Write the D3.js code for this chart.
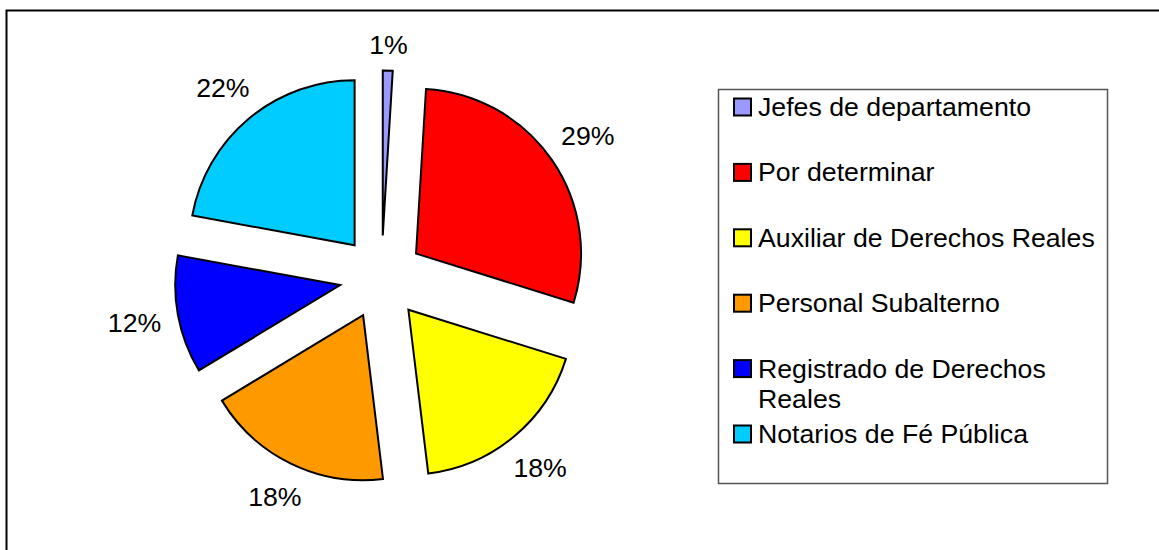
<!DOCTYPE html>
<html>
<head>
<meta charset="utf-8">
<script src="https://cdn.jsdelivr.net/npm/d3@7"></script>
<style>
  body { margin: 0; background: #fff; }
  text { font-family: "Liberation Sans", Arial, sans-serif; }
</style>
</head>
<body>
<div id="chart"></div>
<script>
// categories and values (counts)
var categories = ["Jefes de departamento", "Por determinar", "Auxiliar de Derechos Reales",
                  "Personal Subalterno", "Registrado de Derechos Reales", "Notarios de Fé Pública"];
var values = [1, 30, 19, 19, 12, 23];
var colors = ["#9999FF", "#FF0000", "#FFFF00", "#FF9900", "#0000FF", "#00CCFF"];
// legend lines (wrapped the way the legend shows them)
var legendLines = [["Jefes de departamento"], ["Por determinar"], ["Auxiliar de Derechos Reales"],
                   ["Personal Subalterno"], ["Registrado de Derechos", "Reales"], ["Notarios de Fé Pública"]];

var W = 1159, H = 550;
var cx = 381.5, cy = 277.5, radius = 165, explode = 42;
var fontSize = 26.7;

var svg = d3.select("#chart").append("svg")
    .attr("width", W)
    .attr("height", H);

// chart area border (runs off the right and bottom edge)
svg.append("rect")
    .attr("x", 6.5).attr("y", 10.5)
    .attr("width", W).attr("height", H)
    .attr("fill", "none")
    .attr("stroke", "#000")
    .attr("stroke-width", 2);

var data = categories.map(function(c, i) { return {name: c, value: values[i], color: colors[i]}; });
var total = d3.sum(values);

var pie = d3.pie().sort(null).value(function(d) { return d.value; });
var arc = d3.arc().innerRadius(0).outerRadius(radius);
var arcs = pie(data);

var g = svg.append("g").attr("transform", "translate(" + cx + "," + cy + ")");

// exploded slices
g.selectAll("path.slice")
    .data(arcs)
  .enter().append("path")
    .attr("class", "slice")
    .attr("d", arc)
    .attr("fill", function(d) { return d.data.color; })
    .attr("stroke", "#000")
    .attr("stroke-width", 2)
    .attr("transform", function(d) {
      var m = (d.startAngle + d.endAngle) / 2;
      return "translate(" + (explode * Math.sin(m)) + "," + (-explode * Math.cos(m)) + ")";
    });

// percentage labels outside each slice
var labels = g.selectAll("text.pct")
    .data(arcs)
  .enter().append("text")
    .attr("class", "pct")
    .attr("text-anchor", "middle")
    .attr("dy", "0.36em")
    .attr("font-size", fontSize)
    .attr("fill", "#000")
    .text(function(d) { return Math.round(d.data.value / total * 100) + "%"; });

labels.each(function(d) {
  var m = (d.startAngle + d.endAngle) / 2;
  var s = Math.sin(m), c = Math.cos(m);
  var hw = this.getComputedTextLength() / 2, hh = 10;
  var r = radius + explode + 16 + Math.abs(s) * hw + Math.abs(c) * hh;
  d3.select(this).attr("x", r * s).attr("y", -r * c);
});

// legend
var lx = 718, ly = 89, lw = 389, lh = 394;
var legend = svg.append("g");
legend.append("rect")
    .attr("x", lx + 0.5).attr("y", ly + 0.5)
    .attr("width", lw).attr("height", lh)
    .attr("fill", "#fff")
    .attr("stroke", "#555")
    .attr("stroke-width", 1.5);

var rowY = d3.scaleLinear().domain([0, 5]).range([106.5, 433.5]);

var items = legend.selectAll("g.item")
    .data(data)
  .enter().append("g")
    .attr("class", "item")
    .attr("transform", function(d, i) { return "translate(0," + rowY(i) + ")"; });

items.append("rect")
    .attr("x", 734).attr("y", -8)
    .attr("width", 17).attr("height", 17)
    .attr("fill", function(d) { return d.color; })
    .attr("stroke", "#000")
    .attr("stroke-width", 2);

items.append("text")
    .attr("x", 758)
    .attr("y", 9.5)
    .attr("font-size", fontSize)
    .attr("fill", "#000")
    .each(function(d, i) {
      var t = d3.select(this);
      legendLines[i].forEach(function(line, k) {
        t.append("tspan")
          .attr("x", 758)
          .attr("dy", k === 0 ? 0 : 30)
          .text(line);
      });
    });
</script>
</body>
</html>
